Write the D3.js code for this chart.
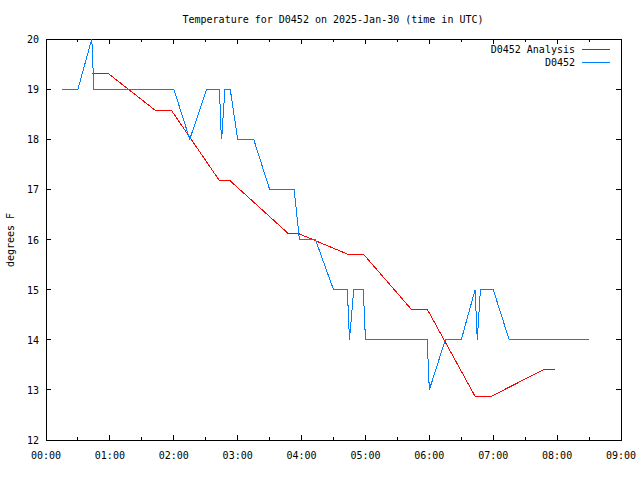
<!DOCTYPE html>
<html><head><meta charset="utf-8">
<script src="https://cdn.jsdelivr.net/npm/d3@7"></script>
<style>body{margin:0;background:#fff}svg{display:block}text{font-family:"DejaVu Sans Mono",monospace;font-size:10px;fill:#000}</style>
</head><body><svg id="c" width="640" height="480"></svg>
<script>
const title = "Temperature for D0452 on 2025-Jan-30 (time in UTC)";
const yLabel = "degrees F";
const seriesNames = ["D0452 Analysis", "D0452"];
const xTickLabels = ["00:00","01:00","02:00","03:00","04:00","05:00","06:00","07:00","08:00","09:00"];
const yTicks = [12,13,14,15,16,17,18,19,20];

const analysisTimes = ["00:43","00:58","01:43","01:58","02:43","02:53","03:48","03:58","04:43","04:58","05:43","05:58","06:43","06:58","07:48","07:58"];
const analysisValues = [19.32,19.32,18.57,18.57,17.17,17.17,16.11,16.11,15.71,15.71,14.61,14.61,12.87,12.87,13.41,13.41];

const obsTimes = ["00:15","00:30","00:43","00:45","02:00","02:15","02:31","02:43","02:44","02:45","02:48","02:53","03:00","03:15","03:30","03:53","03:58","04:13","04:30","04:43","04:45","04:49","04:58","05:00","05:58","06:00","06:15","06:30","06:43","06:45","06:48","07:00","07:15","08:30"];
const obsValues = [19,19,20,19,19,18,19,19,18.3,18,19,19,18,18,17,17,16,16,15,15,14,15,15,14,14,13,14,14,15,14,15,15,14,14];

const toMin = s => { const [h,m] = s.split(":").map(Number); return h*60+m; };
const L=46,R=621,T=39,B=440;
const x = d3.scaleLinear().domain([0,540]).range([L,R]);
const y = d3.scaleLinear().domain([12,20]).range([B,T]);
const svg = d3.select("#c");

// ticks
const majors = xTickLabels.map(toMin);
const minors = d3.range(30,540,60);
const g = svg.append("g").attr("stroke","#000").attr("stroke-width",1).attr("shape-rendering","crispEdges");
majors.forEach(m=>{ if(m>0&&m<540){ g.append("line").attr("x1",x(m)).attr("x2",x(m)).attr("y1",B).attr("y2",B-5);
  g.append("line").attr("x1",x(m)).attr("x2",x(m)).attr("y1",T).attr("y2",T+5);} });
minors.forEach(m=>{ g.append("line").attr("x1",x(m)).attr("x2",x(m)).attr("y1",B).attr("y2",B-3);
  g.append("line").attr("x1",x(m)).attr("x2",x(m)).attr("y1",T).attr("y2",T+3); });
yTicks.forEach(v=>{ if(v>12&&v<20){ g.append("line").attr("x1",L).attr("x2",L+5).attr("y1",y(v)).attr("y2",y(v));
  g.append("line").attr("x1",R).attr("x2",R-5).attr("y1",y(v)).attr("y2",y(v)); } });
g.append("rect").attr("x",L).attr("y",T).attr("width",R-L).attr("height",B-T).attr("fill","none");

// labels
xTickLabels.forEach(s=>svg.append("text").attr("x",x(toMin(s))).attr("y",459).attr("text-anchor","middle").text(s));
yTicks.forEach(v=>svg.append("text").attr("x",39).attr("y",y(v)+4).attr("text-anchor","end").text(v));
svg.append("text").attr("x",333).attr("y",23).attr("text-anchor","middle").text(title);
svg.append("text").attr("transform","translate(14,240) rotate(-90)").attr("text-anchor","middle").text(yLabel);

// lines
const line = d3.line().x(d=>x(d[0])).y(d=>y(d[1]));
const aData = analysisTimes.map((t,i)=>[toMin(t),analysisValues[i]]);
const oData = obsTimes.map((t,i)=>[toMin(t),obsValues[i]]);
svg.append("path").attr("d",line(aData)).attr("fill","none").attr("stroke","#ff0000").attr("stroke-width",1).attr("shape-rendering","crispEdges");
svg.append("path").attr("d",line(oData)).attr("fill","none").attr("stroke","#0080ff").attr("stroke-width",1).attr("shape-rendering","crispEdges");

// legend
const colors = ["#ff0000","#0080ff"];
seriesNames.forEach((n,i)=>{
  const yy = 49 + i*13;
  svg.append("text").attr("x",575).attr("y",yy+4).attr("text-anchor","end").text(n);
  svg.append("line").attr("x1",582).attr("x2",610).attr("y1",yy).attr("y2",yy).attr("stroke",colors[i]).attr("stroke-width",1).attr("shape-rendering","crispEdges");
});
</script></body></html>
